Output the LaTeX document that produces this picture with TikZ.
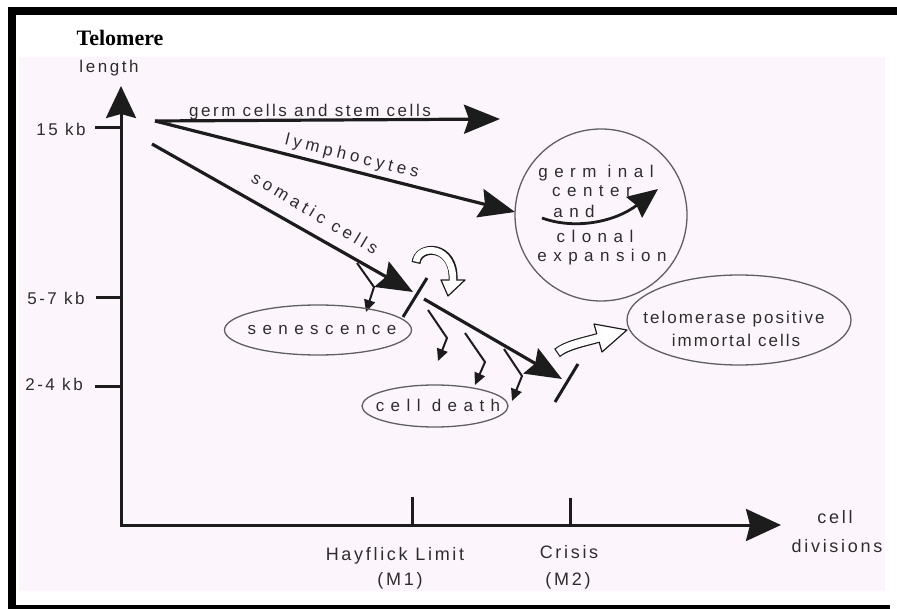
\documentclass[tikz,border=0pt]{standalone}
\usepackage{fontspec}
\setmainfont{Liberation Sans}
\newfontfamily\famA[LetterSpace=15]{Liberation Sans}
\newfontfamily\famB[LetterSpace=25]{Liberation Sans}
\newfontfamily\famC[LetterSpace=38]{Liberation Sans}
\newfontfamily\famD[LetterSpace=12]{Liberation Sans}
\newfontfamily\famT{Liberation Serif}
\usetikzlibrary{arrows.meta,shapes.geometric}
\definecolor{bg}{RGB}{252,246,252}
\definecolor{ink}{RGB}{28,28,28}
\definecolor{txt}{RGB}{45,45,45}
\definecolor{ell}{RGB}{95,95,95}
\tikzset{
  lblA/.style={text=txt, inner sep=0pt, anchor=base, font={\famA\fontsize{17}{20}\selectfont}},
  lblX/.style={text=txt, inner sep=0pt, anchor=base, font={\famA\fontsize{18}{21}\selectfont}},
  lblB/.style={text=txt, inner sep=0pt, font={\famB\fontsize{17}{20}\selectfont}},
  lblC/.style={text=txt, inner sep=0pt, anchor=base, font={\famC\fontsize{17}{20}\selectfont}},
  lblD/.style={text=txt, inner sep=0pt, anchor=base, font={\famD\fontsize{17}{20}\selectfont}},
  mainline/.style={draw=ink, line width=3.2pt},
  bighead/.style={-{Stealth[length=36pt,width=29pt,inset=5pt]}},
  axisline/.style={draw=ink, line width=3pt},
  tickline/.style={draw=ink, line width=3pt},
  zigzag/.style={draw=ink, line width=2pt, -{Triangle[length=12pt,width=11pt]}},
  ellnode/.style={ellipse, draw=ell, line width=1.3pt, inner sep=0pt},
  hollowout/.style={draw=ink, line width=1.2pt, fill=white, line join=round},
}
\begin{document}
\begin{tikzpicture}[x=1pt,y=-1pt]
\useasboundingbox (0,0) rectangle (897,609);
% background and frame
\fill[bg] (19,57) rectangle (885,591);
\fill[black] (8,7) rectangle (897,15);
\fill[black] (8,7) rectangle (16,609);
\fill[black] (8,605) rectangle (890,609);

% axes
\coordinate (O) at (121,525);
\coordinate (Ytop) at (121,86);
\coordinate (Xend) at (781,525);
\draw[axisline, {Stealth[length=32pt,width=30pt,inset=4pt]}-{Stealth[length=35pt,width=32pt,inset=4pt]}] (Ytop) -- (O) -- (Xend);

% y ticks and labels
\coordinate (t15a) at (95,128); \coordinate (t15b) at (121,128);
\coordinate (t57a) at (96,298); \coordinate (t57b) at (121,298);
\coordinate (t24a) at (95,387); \coordinate (t24b) at (121,387);
\draw[tickline] (t15a) -- (t15b);
\draw[tickline] (t57a) -- (t57b);
\draw[tickline] (t24a) -- (t24b);
\node[lblA] (l15) at (61,136) {15 kb};
\node[lblA] (l57) at (56,305) {5-7 kb};
\node[lblA] (l24) at (54,391) {2-4 kb};
\node[inner sep=0pt, anchor=base, font={\famT\bfseries\fontsize{22}{25}\selectfont}] (tel) at (120,46) {Telomere};
\node[lblA] (len) at (109,73) {length};

% x ticks and labels
\coordinate (hx) at (412,525); \coordinate (hxt) at (412,497);
\coordinate (cx) at (570,525); \coordinate (cxt) at (570,498);
\draw[tickline] (hx) -- (hxt);
\draw[tickline] (cx) -- (cxt);
\node[lblX] (hay) at (395,560) {Hayflick Limit};
\node[lblX] (m1) at (400,585) {(M1)};
\node[lblX] (cri) at (569,558) {Crisis};
\node[lblX] (m2) at (568,585) {(M2)};
\node[lblX] (cell) at (835,523) {cell};
\node[lblX] (div) at (837,552) {divisions};

% main lines
\coordinate (s1) at (155,121);
\coordinate (g1) at (500,119);
\coordinate (ly1) at (515,212);
\coordinate (s2) at (152,144);
\coordinate (so1) at (413,292);
\coordinate (c1) at (424,299);
\coordinate (c2) at (562,379);
\draw[mainline, bighead] (s1) -- (g1);
\draw[mainline, bighead] (s1) -- (ly1);
\draw[mainline, bighead] (s2) -- (so1);
\draw[mainline, bighead] (c1) -- (c2);
\node[lblA] (germ) at (310,117) {germ cells and stem cells};
\node[lblB, rotate=-13.8] (lym) at (352,157) {lymphocytes};
\node[lblB, rotate=-31] (som) at (315,213) {somatic cells};

% Hayflick and crisis bars
\coordinate (hb1) at (403,317); \coordinate (hb2) at (427,278);
\coordinate (cb1) at (555,402); \coordinate (cb2) at (578,364);
\draw[tickline] (hb1) -- (hb2);
\draw[tickline] (cb1) -- (cb2);

% zigzag arrows
\coordinate (z1a) at (357,263); \coordinate (z1b) at (374,287); \coordinate (z1c) at (366,312);
\coordinate (z2a) at (428,310); \coordinate (z2b) at (447,338); \coordinate (z2c) at (438,361);
\coordinate (z3a) at (465,333); \coordinate (z3b) at (485,362); \coordinate (z3c) at (475,385);
\coordinate (z4a) at (504,349); \coordinate (z4b) at (522,376); \coordinate (z4c) at (512,401);
\draw[zigzag] (z1a) -- (z1b) -- (z1c);
\draw[zigzag] (z2a) -- (z2b) -- (z2c);
\draw[zigzag] (z3a) -- (z3b) -- (z3c);
\draw[zigzag] (z4a) -- (z4b) -- (z4c);

% ellipses
\node[ellnode, minimum width=187pt, minimum height=50pt] (sen) at (318,330) {};
\node[lblC] (sent) at (322,335) {senescence};
\node[ellnode, minimum width=146pt, minimum height=42pt] (cd) at (435,406) {};
\node[lblC] (cdt) at (438,412) {cell death};
\node[ellnode, minimum width=224pt, minimum height=90pt] (tp) at (739,320) {};
\node[lblD] (tpt1) at (734,324) {telomerase positive};
\node[lblD] (tpt2) at (736,347) {immortal cells};

% germinal center circle
\node[circle, draw=ell, line width=1.3pt, minimum size=172pt, inner sep=0pt] (gc) at (601,215) {};
\node[lblC] (gc1) at (596,178) {germ inal};
\node[lblC] (gc2) at (592,197) {center};
\node[lblC] (gc3) at (574,218) {and};
\node[lblC] (gc4) at (595,243) {clonal};
\node[lblC] (gc5) at (602,262) {expansion};
\coordinate (ga) at (542,218);
\coordinate (gb) at (658,189);
\draw[draw=ink, line width=2.8pt, -{Stealth[length=30pt,width=26pt,inset=3pt]}] (ga) .. controls (575,230) and (615,222) .. (gb);

% hollow arrow 1 (over Hayflick limit)
\coordinate (h1s) at (416,263);
\coordinate (h1e) at (453,280);
\draw[draw=ink, line width=9pt] (h1s) .. controls (418,244) and (455,244) .. (h1e);
\filldraw[hollowout] (441,280) -- (448,296) -- (465,280) -- cycle;
\draw[draw=white, line width=6.6pt, shorten <=1.3pt, shorten >=-2.5pt] (h1s) .. controls (418,244) and (455,244) .. (h1e);

% hollow arrow 2 (crisis to immortal cells)
\coordinate (h2s) at (557,353);
\coordinate (h2e) at (598,338);
\draw[draw=ink, line width=10pt] (h2s) .. controls (567,345) and (584,342) .. (h2e);
\filldraw[hollowout] (594,324) -- (627,330) -- (602,352) -- cycle;
\draw[draw=white, line width=7.6pt, shorten <=1.2pt, shorten >=-2.5pt] (h2s) .. controls (567,345) and (584,342) .. (h2e);
\end{tikzpicture}
\end{document}
